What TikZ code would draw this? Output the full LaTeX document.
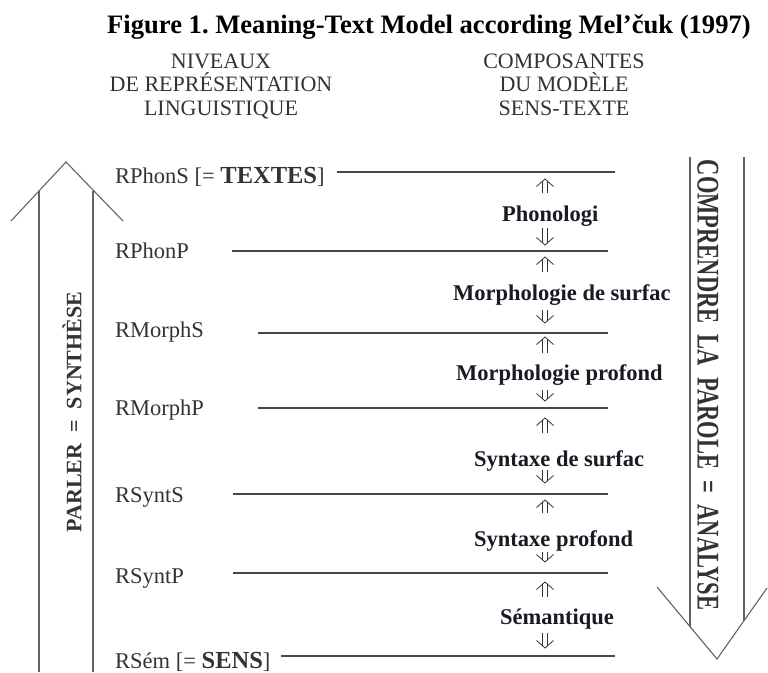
\documentclass[tikz,border=0pt]{standalone}
\usepackage{fontspec}
\setmainfont{Liberation Serif}
\usepackage{graphicx}
\usetikzlibrary{
	positioning
}
\frenchspacing
\definecolor{inkgray}{HTML}{333333}
\definecolor{linegray}{HTML}{474747}
\definecolor{compink}{HTML}{1A1A24}
\tikzset{
	hdr/.style={
		font=\fontsize{22}{23.5}\selectfont,
		text=inkgray, align=center, inner sep=0pt, anchor=north
	},
	lvl/.style={
		font=\fontsize{22.5}{26}\selectfont,
		text=inkgray, inner sep=0pt, anchor=base west
	},
	comp/.style={
		font=\fontsize{22.5}{26}\selectfont\bfseries,
		text=compink, inner sep=0pt, anchor=base west
	},
	sep/.style={draw=linegray, line width=1.3pt},
	bigarrow/.style={draw=linegray!85, line width=1.1pt},
	dbl/.style={draw=inkgray, line width=0.8pt},
	pics/uparr/.style={code={
		\draw[dbl] (-8.5,7.5) -- (0,0) -- (8.5,7.5);
		\draw[dbl] (-2.3,2) -- (-2.3,#1) (2.3,2) -- (2.3,#1);
	}},
	pics/downarr/.style={code={
		\draw[dbl] (-8.5,-7.5) -- (0,0) -- (8.5,-7.5);
		\draw[dbl] (-2.3,-2) -- (-2.3,-#1) (2.3,-2) -- (2.3,-#1);
	}}
}
\newcommand{\bigbold}[1]{{\fontsize{24.5}{26}\selectfont\bfseries #1}}

\begin{document}
\begin{tikzpicture}[x=1pt,y=-1pt]
	\useasboundingbox (0,0) rectangle (768,672);

	% title and column heads
	\path
		node[anchor=base west,inner sep=0pt,font=\fontsize{26.6}{30}\selectfont\bfseries] (title) at (107,33)
			{Figure 1. Meaning-Text Model according Mel’čuk (1997)}
		node[hdr] (niveaux) at (221,53.5) {NIVEAUX\\DE~REPRÉSENTATION\\LINGUISTIQUE}
		node[hdr] (compos)  at (564,53.5) {COMPOSANTES\\DU MODÈLE\\SENS-TEXTE};

	% levels
	\path
		node[lvl] (phonS)  at (115,183) {RPhonS [= \bigbold{TEXTES}]}
		node[lvl] (phonP)  at (115,258) {RPhonP}
		node[lvl] (morphS) at (115,337) {RMorphS}
		node[lvl] (morphP) at (115,415) {RMorphP}
		node[lvl] (syntS)  at (115,502) {RSyntS}
		node[lvl] (syntP)  at (115,583) {RSyntP}
		node[lvl] (sem)    at (115,668) {RSém [= \bigbold{SENS}]};

	\coordinate (phonS-l)  at (337,172); \coordinate (phonS-r)  at (615,172);
	\coordinate (phonP-l)  at (232,251); \coordinate (phonP-r)  at (608,251);
	\coordinate (morphS-l) at (258,333); \coordinate (morphS-r) at (608,333);
	\coordinate (morphP-l) at (258,408); \coordinate (morphP-r) at (608,408);
	\coordinate (syntS-l)  at (233,494); \coordinate (syntS-r)  at (608,494);
	\coordinate (syntP-l)  at (233,573); \coordinate (syntP-r)  at (608,573);
	\coordinate (sem-l)    at (281,656); \coordinate (sem-r)    at (615,656);

	\draw[sep] (phonS-l)  -- (phonS-r);
	\draw[sep] (phonP-l)  -- (phonP-r);
	\draw[sep] (morphS-l) -- (morphS-r);
	\draw[sep] (morphP-l) -- (morphP-r);
	\draw[sep] (syntS-l)  -- (syntS-r);
	\draw[sep] (syntP-l)  -- (syntP-r);
	\draw[sep] (sem-l)    -- (sem-r);

	% components
	\path
		node[comp] (phon)      at (502,221.5) {Phonologi}
		node[comp] (morphsurf) at (453,300)   {Morphologie de surfac}
		node[comp] (morphprof) at (456,380.5) {Morphologie profond}
		node[comp] (syntsurf)  at (474,466.5) {Syntaxe de surfac}
		node[comp] (syntprof)  at (474,546.5) {Syntaxe profond}
		node[comp] (semant)    at (500,624)   {Sémantique};

	\path
		(545,179) pic {uparr=14}   (545,245) pic {downarr=17}
		(545,257) pic {uparr=14.5} (545,323) pic {downarr=13}
		(545,337) pic {uparr=16}   (545,401) pic {downarr=11}
		(545,418) pic {uparr=15}   (545,483) pic {downarr=13}
		(545,500) pic {uparr=13}   (545,562) pic {downarr=10.5}
		(545,582) pic {uparr=15}   (545,648) pic {downarr=15};

	% synthesis arrow (up)
	\coordinate (ltip) at (66,162);
	\coordinate (lhl)  at (11,221);
	\coordinate (lhr)  at (123,221);
	\draw[bigarrow] (lhl) -- (ltip) -- (lhr);
	\draw[bigarrow] (39,191) -- (39,672);
	\draw[bigarrow] (93,191) -- (93,672);
	\node[rotate=90,inner sep=0pt,text=inkgray,font=\fontsize{22}{26}\selectfont\bfseries] (parler) at (72,412)
		{PARLER~~=~~SYNTHÈSE};

	% analysis arrow (down)
	\coordinate (rtip) at (717,659);
	\coordinate (rhl)  at (657,587);
	\coordinate (rhr)  at (767,588);
	\draw[bigarrow] (rhl) -- (rtip) -- (rhr);
	\draw[bigarrow] (690,157) -- (690,627);
	\draw[bigarrow] (744,157) -- (744,621);
	\node[rotate=-90,inner sep=0pt,text=inkgray,font=\fontsize{22.5}{26}\selectfont\bfseries] (comprendre) at (708,385)
		{\scalebox{1}[1.4]{COMPRENDRE~~LA~~PAROLE~~=~~ANALYSE}};
\end{tikzpicture}
\end{document}
